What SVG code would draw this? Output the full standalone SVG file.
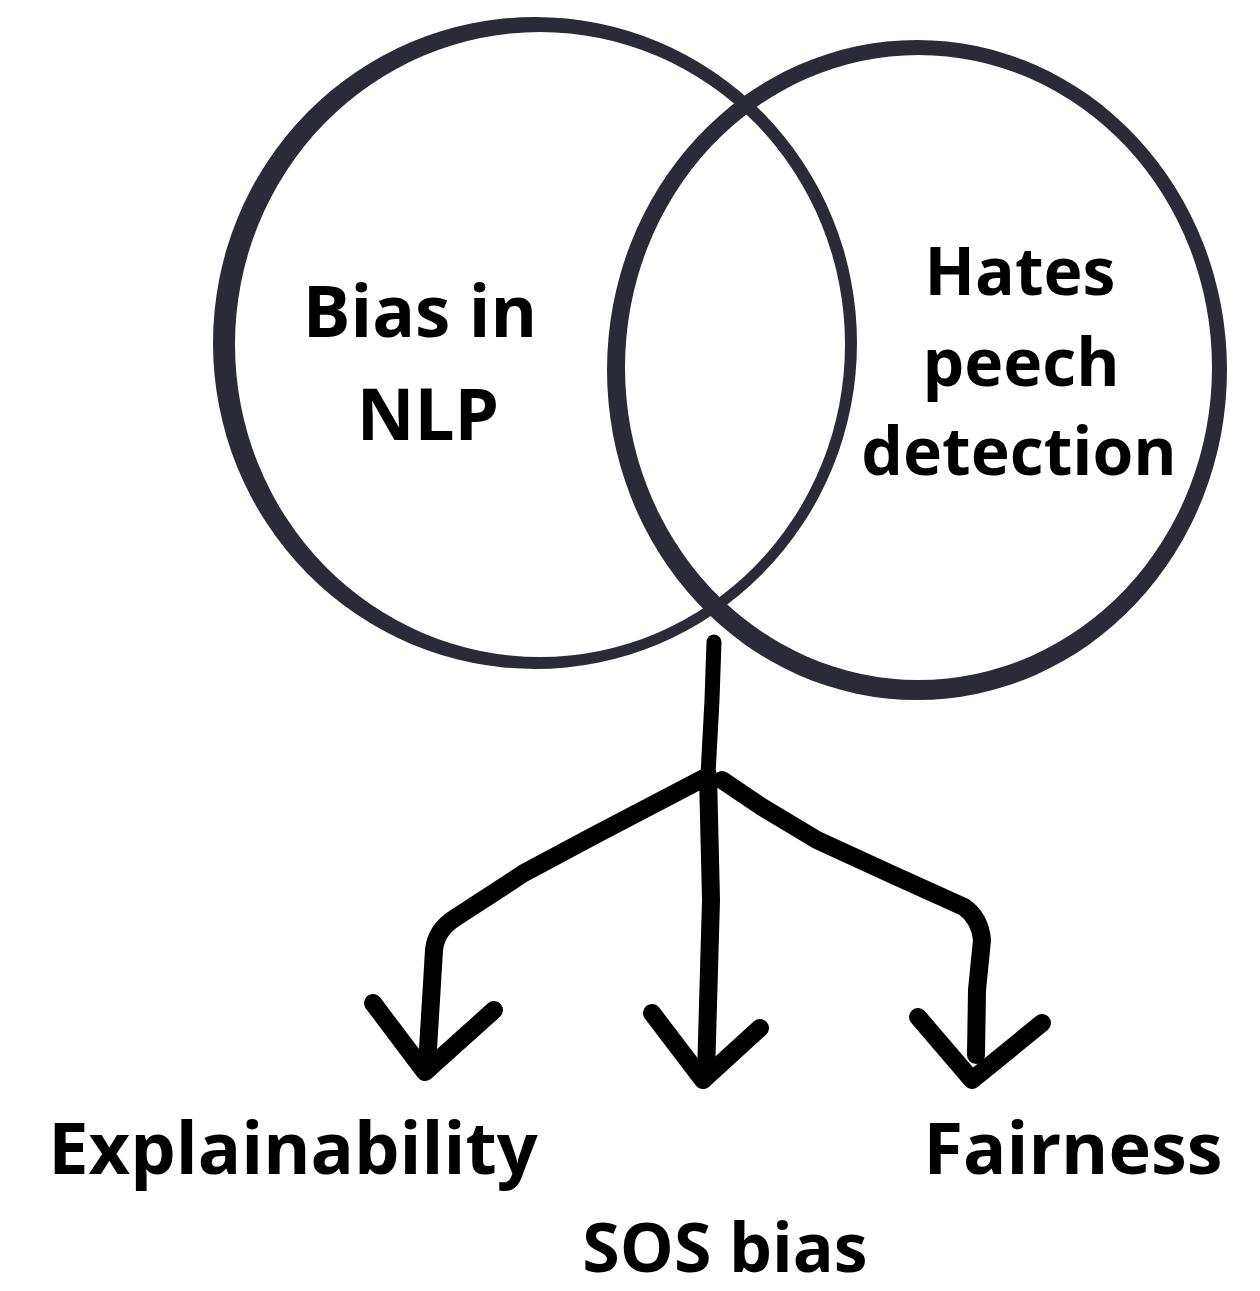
<svg xmlns="http://www.w3.org/2000/svg" width="1260" height="1291" viewBox="0 0 1260 1291">
  <style>
    .ring { fill: #2b2a37; fill-rule: evenodd; }
    .lbl { font-family: "Open Sans", "Noto Sans", "Liberation Sans", sans-serif; font-weight: 700; fill: #000; text-anchor: middle; }
    .ln { fill: none; stroke: #000; stroke-width: 18; stroke-linecap: round; stroke-linejoin: round; }
  </style>
  <rect width="1260" height="1291" fill="#fff"/>
  <g id="node-bias-nlp">
    <path class="ring" d="M213 343 A322 326 0 1 0 857 343 A322 326 0 1 0 213 343 Z M235 344.5 A305 312.5 0 1 0 845 344.5 A305 312.5 0 1 0 235 344.5 Z"/>
    <text class="lbl" font-size="71" x="420" y="337">Bias in</text>
    <text class="lbl" font-size="71" x="428" y="440">NLP</text>
  </g>
  <g id="node-hate-speech">
    <path class="ring" d="M607 370 A310 330 0 1 0 1227 370 A310 330 0 1 0 607 370 Z M625 367.5 A293.5 312.5 0 1 0 1212 367.5 A293.5 312.5 0 1 0 625 367.5 Z"/>
    <text class="lbl" font-size="66" x="1020" y="295">Hates</text>
    <text class="lbl" font-size="66" x="1021" y="386">peech</text>
    <text class="lbl" font-size="66" x="1019" y="475">detection</text>
  </g>
  <g id="connectors">
    <path class="ln" style="stroke-width:15" d="M714 642 L712 700 L708 775"/>
    <path class="ln" d="M708 775 L711 900 L706 1075"/>
    <path class="ln" d="M706 777 L662 800 L597 834 L524 873 L455 918 Q436 930 434 950 L431 1000 L427 1065"/>
    <path class="ln" d="M722 780 L762 807 L817 840 L891 874 L964 907 Q980 918 982 940 L977 990 L976 1055"/>
    <path class="ln" d="M373 1003 L425 1072 L494 1010"/>
    <path class="ln" d="M652 1013 L703 1080 L760 1028"/>
    <path class="ln" d="M918 1017 L972 1080 L1042 1023"/>
  </g>
  <g id="node-explainability">
    <text class="lbl" font-size="72" x="293" y="1174">Explainability</text>
  </g>
  <g id="node-sos-bias">
    <text class="lbl" font-size="68" x="725" y="1272">SOS bias</text>
  </g>
  <g id="node-fairness">
    <text class="lbl" font-size="72" x="1073" y="1174">Fairness</text>
  </g>
</svg>
